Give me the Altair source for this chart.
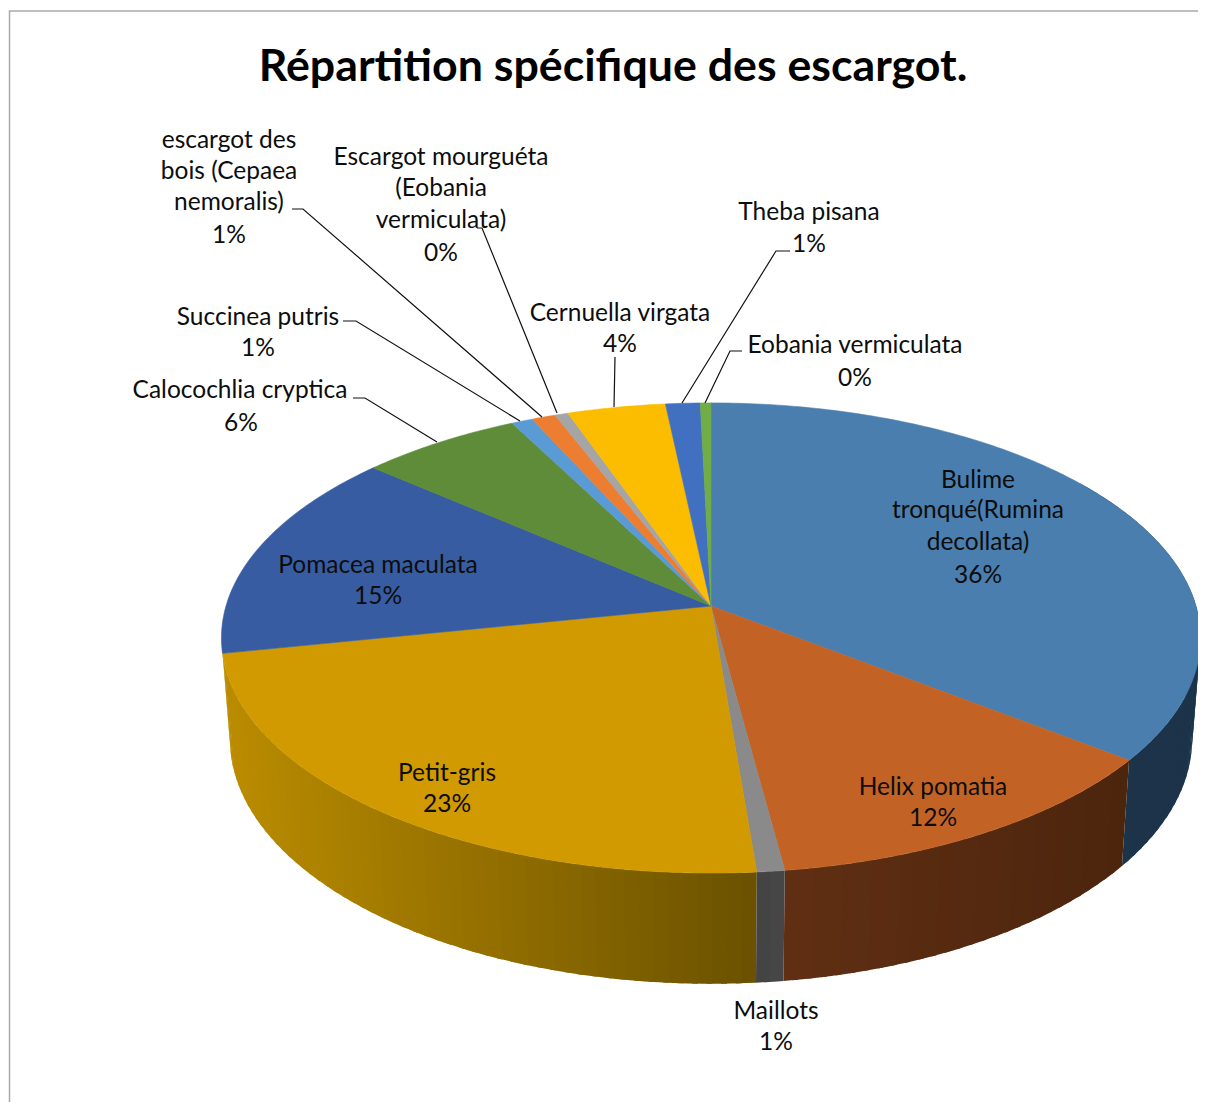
import math
import altair as alt

# ---- values ----
species = ["Bulime tronqué(Rumina decollata)", "Helix pomatia", "Maillots", "Petit-gris",
           "Pomacea maculata", "Calocochlia cryptica", "Succinea putris",
           "escargot des bois (Cepaea nemoralis)", "Escargot mourguéta (Eobania vermiculata)",
           "Cernuella virgata", "Theba pisana", "Eobania vermiculata"]
shares = [35.5, 12.4, 0.8, 23.1, 14.5, 6.1, 0.8, 0.9, 0.5, 3.7, 1.3, 0.4]
top_colors = ["#4a7eae", "#c26325", "#8a8a8a", "#d09a00", "#375ca1", "#5e8c39",
              "#5b9bd5", "#ed7d31", "#a5a5a5", "#fcbd00", "#4170c0", "#70ad47"]
# side wall colours at the start and at the end of each visible slice
side_from = {0: "#1c3349", 1: "#4c250d", 2: "#484848", 3: "#6a5100"}
side_to = {0: "#1c3349", 1: "#602f13", 2: "#434343", 3: "#bb8c00"}

label_text = ["escargot des", "bois (Cepaea", "nemoralis)", "1%",
              "Escargot mourguéta", "(Eobania", "vermiculata)", "0%",
              "Theba pisana", "1%", "Cernuella virgata", "4%",
              "Eobania vermiculata", "0%", "Succinea putris", "1%",
              "Calocochlia cryptica", "6%", "Bulime", "tronqué(Rumina", "decollata)", "36%",
              "Pomacea maculata", "15%", "Petit-gris", "23%",
              "Helix pomatia", "12%", "Maillots", "1%"]
label_x = [229, 229, 229, 229, 441, 441, 441, 441, 809, 809, 620, 620, 855, 855, 258, 258,
           240, 241, 978, 978, 978, 978, 378, 378, 447, 447, 933, 933, 776, 776]
label_y = [148, 179, 210, 243, 165, 196, 228, 261, 220, 252, 321, 352, 353, 386, 325, 356,
           398, 431, 488, 518, 550, 583, 573, 604, 781, 812, 795, 826, 1019, 1050]

leader_id = [0, 0, 0, 1, 1, 1, 2, 2, 2, 3, 3, 3, 4, 4, 5, 5, 5, 6, 6, 6]
leader_x = [292, 303, 542, 343, 356, 520, 353, 365, 437, 477, 482, 557,
            615, 614, 790, 776, 682, 742, 730, 705]
leader_y = [209, 209, 417, 321, 321, 421, 398, 398, 442, 228, 228, 413,
            357, 407, 251, 251, 403, 351, 351, 403]

title_text = "Répartition spécifique des escargot."
FONT = "Lato"

# ---- tilted-disc geometry ----
CX, APEX_Y = 711, 606
RX, RY, K = 485, 230.7, 0.136
FLOOR_Y, FLOOR_SX, FLOOR_SY = 705, 0.983, 1.044


def rim(t_deg, floor=False):
    t = math.radians(t_deg)
    u, v = math.sin(t), -math.cos(t)
    w = 1 - K * v
    if floor:
        return [CX + FLOOR_SX * RX * u / w, FLOOR_Y + FLOOR_SY * RY * v / w]
    return [CX + RX * u / w, APEX_Y + RY * v / w]


def mix(a, b, f):
    pa = [int(a[i:i + 2], 16) for i in (1, 3, 5)]
    pb = [int(b[i:i + 2], 16) for i in (1, 3, 5)]
    return "#" + "".join(f"{round(x + (y - x) * f):02x}" for x, y in zip(pa, pb))


def poly(points, color):
    ring = points + [points[0]]
    return {"type": "Feature", "properties": {"color": color},
            "geometry": {"type": "Polygon", "coordinates": [ring]}}


total = sum(shares)
edges = [0.0]
for s in shares:
    edges.append(edges[-1] + 360.0 * s / total)

walls = []
for i in (0, 3, 1, 2):
    a, b = edges[i], edges[i + 1]
    lo = max(a, 55.0) if i == 0 else a
    n = max(2, int((b - lo) / 1.5))
    x_lo, x_hi = rim(lo)[0], rim(b)[0]
    for j in range(n):
        t0 = lo + (b - lo) * j / n
        t1 = min(b, lo + (b - lo) * (j + 1) / n + 0.6)
        tm = (t0 + t1) / 2
        quad = [rim(t0), rim(tm), rim(t1), rim(t1, True), rim(tm, True), rim(t0, True)]
        shade = (rim(tm)[0] - x_lo) / (x_hi - x_lo)
        walls.append(poly(quad, mix(side_from[i], side_to[i], shade)))

tops = []
for i, col in enumerate(top_colors):
    a, b = edges[i], edges[i + 1]
    n = max(2, int((b - a) / 0.75))
    pts = [[CX, APEX_Y]] + [rim(a + (b - a) * j / n) for j in range(n + 1)]
    tops.append(poly(pts, col))

PLOT_W, PLOT_H = 1190, 1094  # keeps the page inside the window
x_scale = alt.Scale(domain=[8, 8 + PLOT_W], range=[0, PLOT_W], nice=False, zero=False)
y_scale = alt.Scale(domain=[8, 8 + PLOT_H], range=[0, PLOT_H], nice=False, zero=False)
X = alt.X("x:Q", axis=None, scale=x_scale)
Y = alt.Y("y:Q", axis=None, scale=y_scale)

wall_layer = alt.Chart(alt.Data(values=walls)).mark_geoshape(strokeWidth=0).encode(
    fill=alt.Fill("properties.color:N", scale=None),
).project(type="identity", scale=1, translate=[-8, -8])

top_layer = alt.Chart(alt.Data(values=tops)).mark_geoshape(strokeWidth=0.6).encode(
    fill=alt.Fill("properties.color:N", scale=None),
    stroke=alt.Stroke("properties.color:N", scale=None),
).project(type="identity", scale=1, translate=[-8, -8])

frame = alt.Chart(alt.Data(values=[
    {"id": 0, "o": 0, "x": 8 + PLOT_W, "y": 11}, {"id": 0, "o": 1, "x": 9.5, "y": 11},
    {"id": 0, "o": 2, "x": 9.5, "y": 8 + PLOT_H}])).mark_line(color="#a9a9a9", strokeWidth=1.5).encode(
    x=X, y=Y, order="o:Q", detail="id:N")

leaders = alt.Chart(alt.Data(values=[
    {"id": i, "o": k, "x": x, "y": y}
    for k, (i, x, y) in enumerate(zip(leader_id, leader_x, leader_y))
])).mark_line(color="#111111", strokeWidth=1.2).encode(x=X, y=Y, order="o:Q", detail="id:N")

labels = alt.Chart(alt.Data(values=[
    {"t": t, "x": x, "y": y} for t, x, y in zip(label_text, label_x, label_y)
])).mark_text(font=FONT, fontSize=24.5, align="center", baseline="alphabetic", color="#0d0d0d").encode(
    x=X, y=Y, text="t:N")

title = alt.Chart(alt.Data(values=[{"t": title_text, "x": 613, "y": 81}])).mark_text(
    font=FONT, fontSize=44.7, fontWeight="bold", align="center", baseline="alphabetic", color="#000000"
).encode(x=X, y=Y, text="t:N")

chart = alt.layer(wall_layer, top_layer, frame, leaders, labels, title).properties(
    width=PLOT_W, height=PLOT_H, padding=0, autosize=alt.AutoSizeParams(type="none"),
    background="white",
).configure_view(stroke=None)

chart.save("out.html", embed_options={"renderer": "svg", "actions": False})
